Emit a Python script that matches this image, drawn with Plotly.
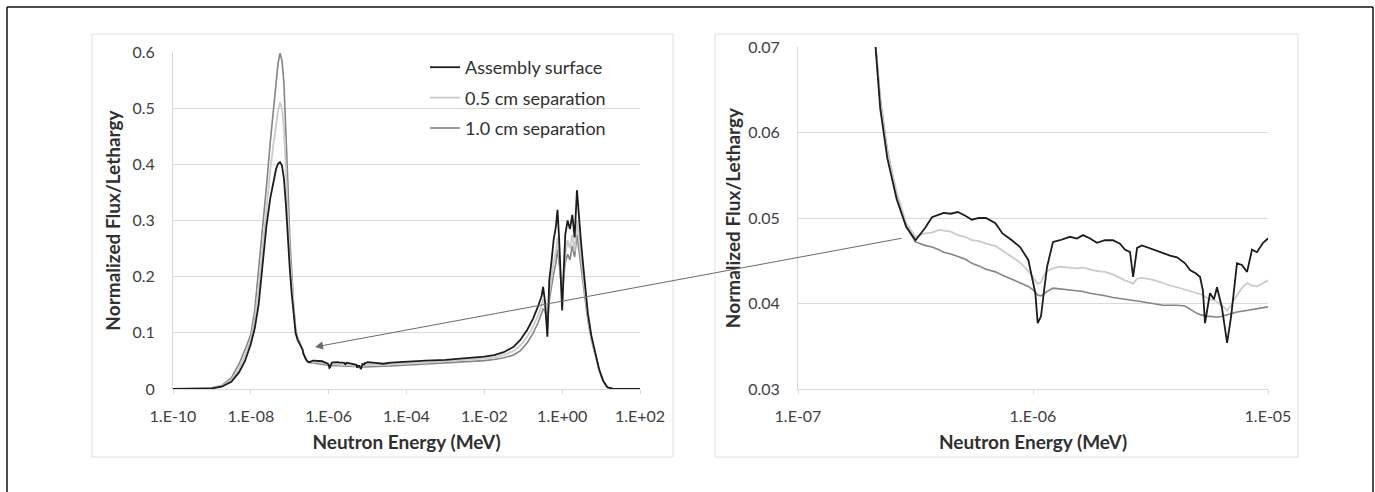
import numpy as np
import plotly.graph_objects as go

# ---------------- data ----------------
log_energy = [
    -10.0, -9.5, -9.0, -8.75, -8.5, -8.3, -8.15, -8.0, -7.9, -7.8, -7.7, -7.6, -7.5, -7.42, -7.35, -7.3,
    -7.25, -7.2, -7.15, -7.1, -7.05, -7.0, -6.95, -6.9, -6.85, -6.8, -6.75, -6.7, -6.67, -6.65,
    -6.62, -6.58, -6.54, -6.50,
    -6.46, -6.43, -6.40, -6.38, -6.35, -6.32, -6.29, -6.26, -6.23, -6.20, -6.16, -6.13, -6.09,
    -6.055, -6.02, -6.0, -5.99, -5.98, -5.966, -5.953, -5.94, -5.915, -5.885, -5.843, -5.813,
    -5.787, -5.757, -5.728, -5.694, -5.66, -5.63, -5.609, -5.587, -5.574, -5.557, -5.536, -5.515,
    -5.481, -5.447, -5.417, -5.387, -5.353, -5.332, -5.306, -5.289, -5.277, -5.268, -5.255,
    -5.247, -5.23, -5.217, -5.196, -5.174, -5.157, -5.132, -5.111, -5.089, -5.068, -5.047,
    -5.021, -5.0,
    -4.8, -4.6, -4.4, -4.2, -4.0, -3.5, -3.0, -2.5, -2.0, -1.75, -1.5, -1.25, -1.08, -0.9, -0.75,
    -0.62, -0.53, -0.49, -0.44, -0.38, -0.33, -0.27, -0.22, -0.16, -0.12, -0.08, -0.04, 0.0,
    0.04, 0.08, 0.14, 0.2, 0.26, 0.32, 0.38, 0.43, 0.48, 0.54, 0.59, 0.66, 0.75, 0.85, 0.95,
    1.05, 1.16, 1.3, 1.5, 2.0,
]

assembly_surface = [
    0.0, 0.0002, 0.0012, 0.004, 0.013, 0.030, 0.050, 0.080, 0.108, 0.150, 0.215, 0.290, 0.340, 0.370, 0.392, 0.401,
    0.404, 0.398, 0.375, 0.330, 0.260, 0.215, 0.170, 0.130, 0.100, 0.088, 0.082, 0.076, 0.0700, 0.0628,
    0.0570, 0.0522, 0.0490, 0.0474,
    0.0488, 0.0501, 0.0504, 0.0506, 0.0505, 0.0507, 0.0503, 0.0498, 0.0500, 0.0500, 0.0494, 0.0482, 0.0474,
    0.0466, 0.0451, 0.0425, 0.0412, 0.0377, 0.0385, 0.0415, 0.0443, 0.0472, 0.0474, 0.0478, 0.0476,
    0.0480, 0.0476, 0.0471, 0.0474, 0.0474, 0.0470, 0.0463, 0.0460, 0.0431, 0.0465, 0.0468, 0.0466,
    0.0462, 0.0459, 0.0456, 0.0454, 0.0447, 0.0439, 0.0435, 0.0431, 0.0415, 0.0377, 0.0400,
    0.0412, 0.0405, 0.0419, 0.0395, 0.0354, 0.0385, 0.0447, 0.0445, 0.0437, 0.0463, 0.0460,
    0.0471, 0.0476,
    0.0465, 0.0450, 0.0470, 0.0480, 0.0490, 0.0505, 0.0520, 0.0545, 0.0575, 0.0605, 0.0655, 0.0750, 0.0870, 0.1050, 0.1250,
    0.1470, 0.1650, 0.1820, 0.1550, 0.0930, 0.1940, 0.2300, 0.2650, 0.2900, 0.3190, 0.2700, 0.2000, 0.1400,
    0.2100, 0.2750, 0.3000, 0.2850, 0.3100, 0.2700, 0.3540, 0.3050, 0.2650, 0.2200, 0.1820, 0.1350, 0.0950, 0.0640, 0.0350,
    0.0150, 0.0030, 0.0005, 0.0, 0.0,
]

sep_05cm = [
    0.0, 0.00025, 0.0016, 0.005, 0.016, 0.037, 0.060, 0.088, 0.124, 0.180, 0.250, 0.325, 0.390, 0.435, 0.470, 0.495,
    0.510, 0.500, 0.465, 0.400, 0.315, 0.240, 0.188, 0.140, 0.104, 0.090, 0.083, 0.0765, 0.0703, 0.0636,
    0.0578, 0.0530, 0.0494, 0.0478,
    0.0482, 0.0483, 0.0486, 0.0485, 0.0484, 0.0480, 0.0478, 0.0474, 0.0473, 0.0470, 0.0467, 0.0462, 0.0455,
    0.0448, 0.0438, 0.0430, 0.0426, 0.0423, 0.0425, 0.0433, 0.0438, 0.0441, 0.0443, 0.0442, 0.0441,
    0.0442, 0.0440, 0.0438, 0.0437, 0.0434, 0.0430, 0.0427, 0.0425, 0.0423, 0.0429, 0.0430, 0.0429,
    0.0427, 0.0424, 0.0421, 0.0419, 0.0416, 0.0414, 0.0412, 0.0411, 0.0410, 0.0408, 0.0406,
    0.0405, 0.0404, 0.0402, 0.0398, 0.0392, 0.0398, 0.0410, 0.0418, 0.0424, 0.0421, 0.0420,
    0.0424, 0.0427,
    0.0430, 0.0433, 0.0438, 0.0445, 0.0452, 0.0470, 0.0490, 0.0510, 0.0540, 0.0565, 0.0605, 0.0675, 0.0770, 0.0930, 0.1110,
    0.1310, 0.1480, 0.1600, 0.1480, 0.1080, 0.1700, 0.2000, 0.2250, 0.2450, 0.2700, 0.2400, 0.1900, 0.1600,
    0.2000, 0.2400, 0.2650, 0.2500, 0.2750, 0.2450, 0.3000, 0.2650, 0.2350, 0.2000, 0.1700, 0.1280, 0.0910, 0.0620, 0.0340,
    0.0148, 0.0030, 0.0005, 0.0, 0.0,
]

sep_10cm = [
    0.0, 0.0003, 0.002, 0.006, 0.020, 0.045, 0.070, 0.097, 0.140, 0.210, 0.285, 0.360, 0.440, 0.500, 0.550, 0.580,
    0.598, 0.585, 0.545, 0.470, 0.370, 0.270, 0.206, 0.150, 0.108, 0.092, 0.084, 0.077, 0.0705, 0.0640,
    0.0580, 0.0528, 0.0490, 0.0472,
    0.0468, 0.0466, 0.0463, 0.0460, 0.0458, 0.0455, 0.0452, 0.0447, 0.0444, 0.0440, 0.0437, 0.0433, 0.0428,
    0.0424, 0.0420, 0.0416, 0.0413, 0.0410, 0.0409, 0.0411, 0.0414, 0.0418, 0.0417, 0.0416, 0.0415,
    0.0414, 0.0412, 0.0411, 0.0409, 0.0407, 0.0406, 0.0405, 0.0404, 0.0404, 0.0403, 0.0402, 0.0401,
    0.0400, 0.0398, 0.0398, 0.0398, 0.0397, 0.0393, 0.0389, 0.0387, 0.0386, 0.0386, 0.0385,
    0.0385, 0.0384, 0.0384, 0.0385, 0.0387, 0.0388, 0.0390, 0.0391, 0.0392, 0.0393, 0.0394,
    0.0395, 0.0396,
    0.0400, 0.0405, 0.0410, 0.0418, 0.0425, 0.0440, 0.0458, 0.0478, 0.0505, 0.0525, 0.0555, 0.0605, 0.0680, 0.0820, 0.0990,
    0.1180, 0.1340, 0.1420, 0.1400, 0.1150, 0.1580, 0.1850, 0.2050, 0.2250, 0.2480, 0.2250, 0.1900, 0.1700,
    0.2000, 0.2250, 0.2400, 0.2300, 0.2550, 0.2350, 0.2750, 0.2450, 0.2150, 0.1850, 0.1600, 0.1220, 0.0880, 0.0600, 0.0335,
    0.0145, 0.0030, 0.0005, 0.0, 0.0,
]

series_names = ["Assembly surface", "0.5 cm separation", "1.0 cm separation"]

left_xtick_exp = [-10, -8, -6, -4, -2, 0, 2]
left_xtick_text = ["1.E-10", "1.E-08", "1.E-06", "1.E-04", "1.E-02", "1.E+00", "1.E+02"]
left_ytick_vals = [0, 0.1, 0.2, 0.3, 0.4, 0.5, 0.6]
left_ytick_text = ["0", "0.1", "0.2", "0.3", "0.4", "0.5", "0.6"]

right_xtick_exp = [-7, -6, -5]
right_xtick_text = ["1.E-07", "1.E-06", "1.E-05"]
right_ytick_vals = [0.03, 0.04, 0.05, 0.06, 0.07]
right_ytick_text = ["0.03", "0.04", "0.05", "0.06", "0.07"]

# ---------------- figure ----------------
W, H = 1375, 492
energy = np.power(10.0, np.array(log_energy))

colors = ["#1c1c1c", "#cbcbcb", "#858585"]
widths = [1.8, 1.8, 1.6]
values = [assembly_surface, sep_05cm, sep_10cm]


def px_x(p):
    return p / W


def px_y(p):
    return (H - p) / H


fig = go.Figure()
for idx in [2, 1, 0]:
    fig.add_trace(go.Scatter(
        x=energy, y=values[idx], mode="lines", name=series_names[idx],
        line=dict(color=colors[idx], width=widths[idx]),
        xaxis="x", yaxis="y", legendgroup=series_names[idx], legendrank=idx + 1,
        showlegend=True,
    ))
for idx in [2, 1, 0]:
    fig.add_trace(go.Scatter(
        x=energy, y=values[idx], mode="lines", name=series_names[idx],
        line=dict(color=colors[idx], width=widths[idx]),
        xaxis="x2", yaxis="y2", legendgroup=series_names[idx], showlegend=False,
    ))

FONT = "Lato, 'Open Sans', sans-serif"
tick_font = dict(family=FONT, size=16, color="#404040")
title_font = dict(family=FONT, size=19, color="#303030", weight="bold")
grid = "#d9d9d9"

common_x = dict(
    type="log", showgrid=False, showline=True, linecolor=grid, linewidth=1,
    ticks="outside", ticklen=4, tickcolor=grid, tickfont=tick_font,
    ticklabelstandoff=9, zeroline=False, automargin=False,
)
common_y = dict(
    showgrid=True, gridcolor=grid, gridwidth=1.3, showline=True, linecolor=grid,
    linewidth=1, ticks="", tickfont=tick_font, ticklabelstandoff=14,
    zeroline=False, automargin=False,
)

fig.update_layout(
    width=W, height=H,
    margin=dict(l=0, r=0, t=0, b=0, pad=0, autoexpand=False),
    paper_bgcolor="white", plot_bgcolor="white",
    showlegend=True,
    legend=dict(
        x=px_x(425), y=px_y(49), xanchor="left", yanchor="top",
        bgcolor="rgba(0,0,0,0)", font=dict(family=FONT, size=18, color="#303030"),
        traceorder="grouped", tracegroupgap=4, itemwidth=30,
    ),
    xaxis=dict(
        common_x, domain=[px_x(173), px_x(640)], range=[-10, 2],
        tickvals=[10.0 ** e for e in left_xtick_exp], ticktext=left_xtick_text,
        title=dict(text="Neutron Energy (MeV)", font=title_font, standoff=11),
        anchor="y",
    ),
    yaxis=dict(
        common_y, domain=[px_y(389), px_y(52)], range=[0, 0.6],
        tickvals=left_ytick_vals, ticktext=left_ytick_text,
        title=dict(text="Normalized Flux/Lethargy", font=title_font, standoff=6),
        anchor="x",
    ),
    xaxis2=dict(
        common_x, domain=[px_x(798), px_x(1268)], range=[-7, -5],
        tickvals=[10.0 ** e for e in right_xtick_exp], ticktext=right_xtick_text,
        title=dict(text="Neutron Energy (MeV)", font=title_font, standoff=11),
        anchor="y2",
    ),
    yaxis2=dict(
        common_y, domain=[px_y(389), px_y(47)], range=[0.03, 0.07],
        tickvals=right_ytick_vals, ticktext=right_ytick_text,
        title=dict(text="Normalized Flux/Lethargy", font=title_font, standoff=2),
        anchor="x2",
    ),
)

# outer frame (left, top, right edges only)
frame = dict(color="#111111", width=1.5)
fig.add_shape(type="line", xref="paper", yref="paper",
              x0=px_x(7), x1=px_x(7), y0=0, y1=px_y(7), line=frame)
fig.add_shape(type="line", xref="paper", yref="paper",
              x0=px_x(7), x1=px_x(1373), y0=px_y(7), y1=px_y(7), line=frame)
fig.add_shape(type="line", xref="paper", yref="paper",
              x0=px_x(1373), x1=px_x(1373), y0=0, y1=px_y(7), line=frame)
# light chart-area boxes
for (xa, xb) in [(92, 673), (715, 1298)]:
    fig.add_shape(type="rect", xref="paper", yref="paper",
                  x0=px_x(xa), x1=px_x(xb), y0=px_y(457), y1=px_y(34),
                  line=dict(color="#e0e0e0", width=1), layer="below")

# arrow linking the zoomed region to the full spectrum
fig.add_annotation(
    xref="paper", yref="paper", x=px_x(315), y=px_y(347),
    ax=588, ay=-109, axref="pixel", ayref="pixel",
    showarrow=True, arrowhead=2, arrowsize=1.6, arrowwidth=1, arrowcolor="#6a6a6a",
    text="",
)

fig.write_html("out.html")
